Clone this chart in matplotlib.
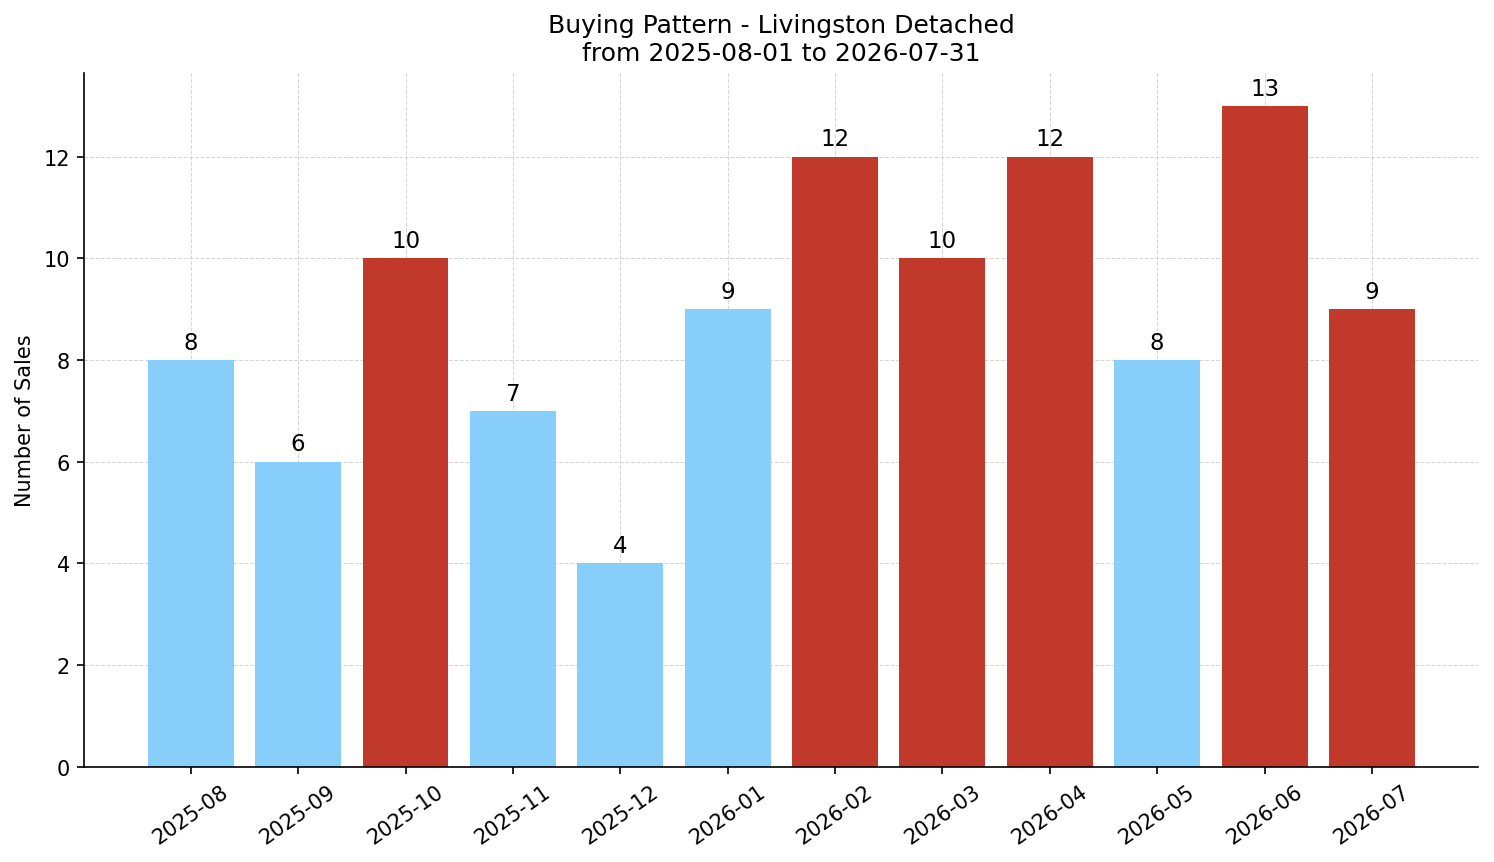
import matplotlib.pyplot as plt

# ── Data ─────────────────────────────────────────────────────
months = ["2025-08", "2025-09", "2025-10", "2025-11", "2025-12", "2026-01",
          "2026-02", "2026-03", "2026-04", "2026-05", "2026-06", "2026-07"]
sales = [8, 6, 10, 7, 4, 9, 12, 10, 12, 8, 13, 9]
hot = [False, False, True, False, False, False, True, True, True, False, True, True]

BLUE = "#87CEFA"
RED = "#C0392B"
colors = [RED if h else BLUE for h in hot]

# ── Plot ─────────────────────────────────────────────────────
fig, ax = plt.subplots(figsize=(9.96, 5.753), dpi=150)
fig.subplots_adjust(left=0.0565, right=0.9895, top=0.9145, bottom=0.1105)

bars = ax.bar(range(len(months)), sales, width=0.8, color=colors, zorder=2)
ax.bar_label(bars, padding=3, fontsize=11)

ax.set_xticks(range(len(months)))
ax.set_xticklabels(months, rotation=35)
ax.set_ylim(0, 13.65)
ax.set_ylabel("Number of Sales")
ax.set_title("Buying Pattern - Livingston Detached\nfrom 2025-08-01 to 2026-07-31", fontsize=12)

ax.grid(True, linestyle="--", linewidth=0.5, color="#cccccc", alpha=0.8, zorder=0)
ax.set_axisbelow(True)
ax.spines["top"].set_visible(False)
ax.spines["right"].set_visible(False)

fig.savefig("out.png", dpi=150)
